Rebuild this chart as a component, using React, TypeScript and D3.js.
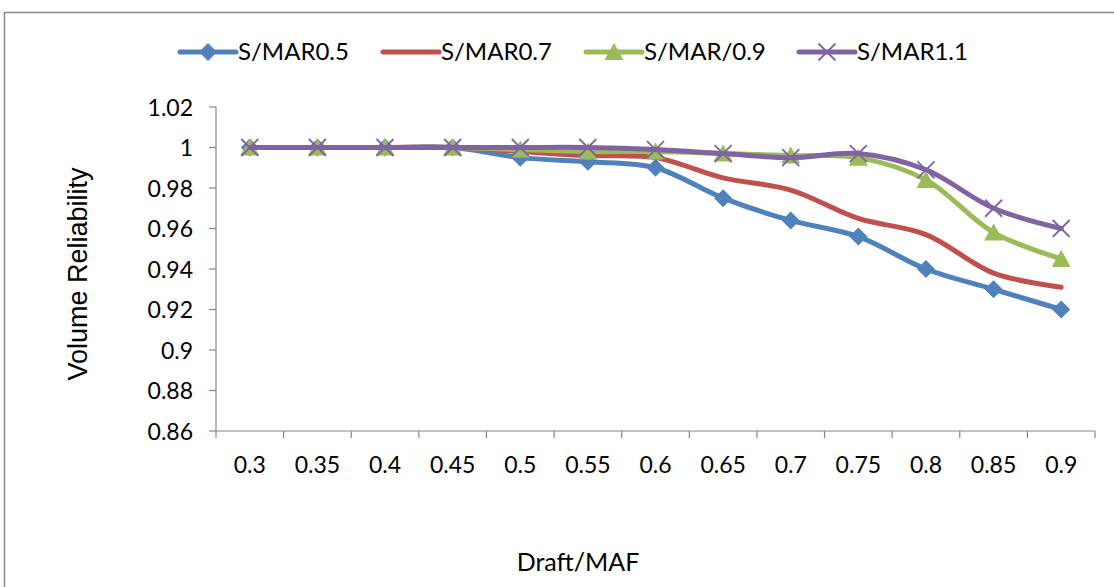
import React from "react";
import * as d3 from "d3";

const categories = ["0.3","0.35","0.4","0.45","0.5","0.55","0.6","0.65","0.7","0.75","0.8","0.85","0.9"];
const smar05 = [1,1,1,1,0.995,0.993,0.99,0.975,0.964,0.956,0.94,0.93,0.92];
const smar07 = [1,1,1,1,0.998,0.996,0.995,0.985,0.979,0.965,0.957,0.938,0.931];
const smar09 = [1,1,1,1,0.999,0.998,0.998,0.997,0.996,0.995,0.984,0.958,0.945];
const smar11 = [1,1,1,1,1,1,0.999,0.997,0.995,0.997,0.989,0.97,0.96];
const yTicks = [0.86,0.88,0.9,0.92,0.94,0.96,0.98,1,1.02];

const seriesNames = ["S/MAR0.5","S/MAR0.7","S/MAR/0.9","S/MAR1.1"];
const seriesColors = ["#4F81BD","#C0504D","#9BBB59","#8064A2"];
const seriesMarkers = ["diamond","none","triangle","x"];
const seriesData = [smar05, smar07, smar09, smar11];

const FONT = "Lato, 'Open Sans', sans-serif";

function Marker({ type, x, y, color }: { type: string; x: number; y: number; color: string }) {
  if (type === "diamond") {
    const s = 9;
    return <path d={`M${x},${y - s}L${x + s},${y}L${x},${y + s}L${x - s},${y}Z`} fill={color} />;
  }
  if (type === "triangle") {
    return <path d={`M${x},${y - 9}L${x + 9.5},${y + 8}L${x - 9.5},${y + 8}Z`} fill={color} />;
  }
  if (type === "x") {
    const s = 8.5;
    return (
      <path d={`M${x - s},${y - s}L${x + s},${y + s}M${x - s},${y + s}L${x + s},${y - s}`} stroke={color} strokeWidth={1.8} fill="none" />
    );
  }
  return null;
}

export default function App() {
  const W = 1114, H = 587;
  const left = 216, right = 1095, top = 107, bottom = 431;
  const x = d3.scaleBand<string>().domain(categories).range([left, right]);
  const y = d3.scaleLinear().domain([0.86, 1.02]).range([bottom, top]);
  const cx = (c: string) => (x(c) as number) + x.bandwidth() / 2;
  const line = d3.line<number>()
    .x((_, i) => cx(categories[i]))
    .y((d) => y(d))
    .curve(d3.curveCatmullRom.alpha(0.5));

  const legendX = [180, 383, 586, 799];
  const legendY = 52;

  return (
    <svg width={W} height={H} style={{ position: "absolute", left: 0, top: 0, background: "#fff" }} fontFamily={FONT}>
      <rect x={0} y={0} width={W} height={H} fill="#fff" />
      <path d={`M4.5,${H + 5}L4.5,12.5L${W + 5},12.5`} stroke="#8a8a8a" strokeWidth={1.5} fill="none" />

      {/* Axes */}
      <line x1={left} x2={left} y1={top} y2={bottom} stroke="#868686" strokeWidth={1.2} />
      <line x1={left} x2={right} y1={bottom} y2={bottom} stroke="#868686" strokeWidth={1.2} />
      {yTicks.map((t) => (
        <g key={t}>
          <line x1={left - 7} x2={left} y1={y(t)} y2={y(t)} stroke="#868686" strokeWidth={1.2} />
          <text x={left - 23} y={y(t) + 8.5} textAnchor="end" fontSize={23} fill="#000">{String(t)}</text>
        </g>
      ))}
      {categories.map((c) => (
        <line key={"t" + c} x1={(x(c) as number)} x2={(x(c) as number)} y1={bottom} y2={bottom + 7} stroke="#868686" strokeWidth={1.2} />
      ))}
      <line x1={right} x2={right} y1={bottom} y2={bottom + 7} stroke="#868686" strokeWidth={1.2} />
      {categories.map((c) => (
        <text key={"l" + c} x={cx(c)} y={473} textAnchor="middle" fontSize={23} fill="#000">{c}</text>
      ))}

      {/* Series */}
      {seriesData.map((data, si) => (
        <g key={si}>
          <path d={line(data) as string} fill="none" stroke={seriesColors[si]} strokeWidth={5} strokeLinejoin="round" strokeLinecap="round" />
          {data.map((v, i) => (
            <Marker key={i} type={seriesMarkers[si]} x={cx(categories[i])} y={y(v)} color={seriesColors[si]} />
          ))}
        </g>
      ))}

      {/* Legend */}
      {seriesNames.map((n, i) => (
        <g key={n}>
          <line x1={legendX[i]} x2={legendX[i] + 56} y1={legendY} y2={legendY} stroke={seriesColors[i]} strokeWidth={5} strokeLinecap="round" />
          <Marker type={seriesMarkers[i]} x={legendX[i] + 28} y={legendY} color={seriesColors[i]} />
          <text x={legendX[i] + 58} y={60} fontSize={24} fill="#000">{n}</text>
        </g>
      ))}

      {/* Axis titles */}
      <text transform={`translate(87,274) rotate(-90)`} textAnchor="middle" fontSize={27} fontFamily="'Liberation Sans', Arial, sans-serif" fill="#000">Volume Reliability</text>
      <text x={578} y={570.5} textAnchor="middle" fontSize={25} fill="#000">Draft/MAF</text>
    </svg>
  );
}
